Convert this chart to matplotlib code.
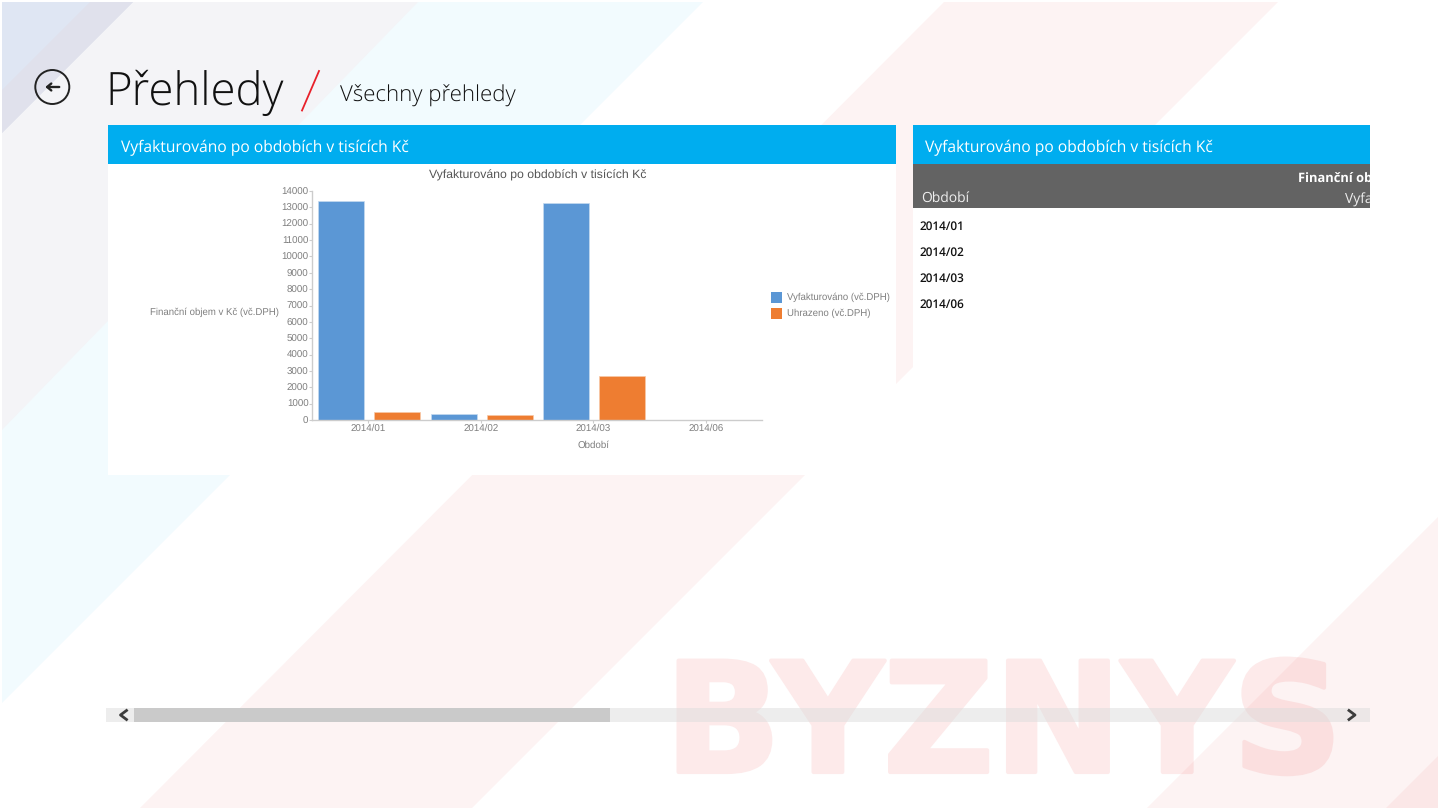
import numpy as np
import matplotlib
matplotlib.use('Agg')
import matplotlib.pyplot as plt
import matplotlib.patheffects as pe
from matplotlib.patches import Polygon, Rectangle, Circle

plt.rcParams['text.hinting'] = 'no_hinting'

# data
periods = ['2014/01', '2014/02', '2014/03', '2014/06']
invoiced = [13400, 385, 13250, 10]
paid = [470, 305, 2710, 0]
y_ticks = list(range(0, 15000, 1000))

BLUE = '#5B97D5'
ORANGE = '#EE7D31'
HEAD = '#00ADEF'
GREY = '#7f7f7f'
PINK = (0.9, 0.1, 0.1, 0.05)
FONT = ['Open Sans', 'DejaVu Sans']
CHART_FONT = ['Liberation Sans', 'DejaVu Sans']

W, H = 1440, 810
fig = plt.figure(figsize=(W / 100, H / 100), dpi=100)
fig.patch.set_facecolor('white')

# full-figure canvas in pixel coordinates, y pointing down
bg = fig.add_axes([0, 0, 1, 1])
bg.set_xlim(0, W)
bg.set_ylim(H, 0)
bg.axis('off')


def poly(pts, color, z=1):
    bg.add_patch(Polygon(pts, closed=True, facecolor=color, edgecolor='none', zorder=z))


def rect(x, y, w, h, color, z=3):
    bg.add_patch(Rectangle((x, y), w, h, facecolor=color, edgecolor='none', zorder=z))


# diagonal background stripes
poly([(0, 0), (705, 0), (0, 705)], '#F2FBFE')
poly([(0, 0), (420, 0), (0, 432)], '#F4F4F7', 1.1)
poly([(0, 0), (135, 0), (0, 135)], '#DFE6F3', 1.2)
poly([(135, 0), (0, 135), (0, 92), (92, 0)], '#E0E1EC', 1.3)

# watermark sits under the pink stripes, they tint it where they cross
wm = bg.text(1003.5, 772, 'BYZNYS', fontsize=110, fontweight='bold', family='DejaVu Sans',
             color='#FDEAEA', ha='center', va='baseline', zorder=1.5)
wm.set_path_effects([pe.withStroke(linewidth=3, foreground='#FDEAEA')])

poly([(946, 0), (1280, 0), (470, 810), (138, 810)], PINK, 2)
poly([(1440, 515), (1440, 810), (1145, 810)], PINK, 2)
poly([(1440, 754), (1440, 810), (1384, 810)], PINK, 2.1)

# thin white border round the window
rect(0, 0, W, 1.5, 'white', 2.5)
rect(0, 808, W, 2, 'white', 2.5)
rect(0, 0, 1.5, H, 'white', 2.5)
rect(1438, 0, 2, H, 'white', 2.5)

# header
bg.add_patch(Circle((52.3, 87), 17, facecolor='none', edgecolor='#222222', lw=1.4, zorder=4))
bg.annotate('', xy=(42.5, 87), xytext=(62, 87), zorder=4,
            arrowprops=dict(arrowstyle='->,head_width=0.25,head_length=0.3', color='#222222', lw=1.7))
bg.text(105, 105, 'Přehledy', fontsize=32.8, family=FONT, fontweight='light', color='#111111',
        va='baseline', zorder=4)
bg.plot([302, 319], [110.5, 71], color='#E8202A', lw=1.3, zorder=4)
bg.text(340.5, 101.5, 'Všechny přehledy', fontsize=16, family=FONT, fontweight='light', color='#111111',
        va='baseline', zorder=4)

# left card
rect(108, 125, 788, 39, HEAD)
rect(108, 164, 788, 311, 'white')
bg.text(121, 147.5, 'Vyfakturováno po obdobích v tisících Kč', fontsize=11.25, family=FONT,
        color='white', va='center', zorder=4)

# right card with the table
rect(913, 125, 457, 39, HEAD)
rect(913, 164, 457, 44, '#636363')
rect(913, 208, 457, 267, 'white')
bg.text(925, 147.5, 'Vyfakturováno po obdobích v tisících Kč', fontsize=11.25, family=FONT,
        color='white', va='center', zorder=4)
bg.text(921.5, 198.5, 'Období', fontsize=10, family=FONT, color='#eeeeee', va='center', zorder=4)
clip = Rectangle((913, 164), 457, 44, transform=bg.transData)
t1 = bg.text(1298, 179, 'Finanční objem', fontsize=9.3, family=FONT, fontweight='bold',
             color='white', va='center', zorder=4)
t2 = bg.text(1345, 200, 'Vyfakturováno', fontsize=10, family=FONT, color='#eeeeee', va='center', zorder=4)
for t in (t1, t2):
    t.set_clip_on(True)
    t.set_clip_path(clip)
for i, p in enumerate(periods):
    bg.text(919.5, 226.3 + i * 26.2, p, fontsize=8.5, family=FONT, color='#111111', fontweight='semibold',
            va='center', zorder=4)

# scrollbar, the track lets the watermark show through
bg.add_patch(Rectangle((105.5, 707.5), 1264.5, 14.5, facecolor=(0.865, 0.865, 0.865, 0.5),
                       edgecolor='none', zorder=3))
rect(134, 707.5, 476, 14.5, '#CACACA', 3.1)
bg.plot([126.5, 120.5, 126.5], [710.5, 715, 719.5], color='#3c3c3c', lw=2, zorder=4)
bg.plot([1349, 1355, 1349], [710.5, 715, 719.5], color='#3c3c3c', lw=2, zorder=4)

# chart, axes box taken from pixel positions of the plot area
ax = fig.add_axes([312 / W, 1 - 420 / H, 450 / W, 229 / H], facecolor='none', zorder=5)
x = np.arange(len(periods))
bar_w = 0.409
ax.bar(x - 0.238, invoiced, bar_w, color=BLUE, edgecolor='#C5DAF0', lw=0.5, label='Vyfakturováno (vč.DPH)')
ax.bar(x + 0.257, paid, bar_w, color=ORANGE, edgecolor='#F8C9A8', lw=0.5, label='Uhrazeno (vč.DPH)')
ax.set_xlim(-0.5, 3.5)
ax.set_ylim(0, 14000)
ax.set_yticks(y_ticks)
ax.set_xticks(x)
ax.set_xticklabels(periods)
ax.tick_params(axis='both', length=2, width=0.8, color='#cccccc', labelsize=7, labelcolor=GREY, pad=0.5)
for lab in ax.get_xticklabels() + ax.get_yticklabels():
    lab.set_family(CHART_FONT)
for s in ['top', 'right']:
    ax.spines[s].set_visible(False)
for s in ['left', 'bottom']:
    ax.spines[s].set_color('#cccccc')
    ax.spines[s].set_linewidth(1)

bg.text(429, 175, 'Vyfakturováno po obdobích v tisících Kč', fontsize=8.8, family=CHART_FONT,
        color='#555555', ha='left', va='center', zorder=4)
bg.text(214, 312, 'Finanční objem v Kč (vč.DPH)', fontsize=6.9, family=CHART_FONT, color=GREY,
        ha='center', va='center', zorder=4)
bg.text(594, 445, 'Období', fontsize=7, family=CHART_FONT, color=GREY, ha='center', va='center', zorder=4)

# legend drawn by hand to sit at the same place as in the screenshot
rect(771, 292, 10.5, 10.5, BLUE, 4)
rect(771, 308, 10.5, 10.5, ORANGE, 4)
bg.text(787, 297, 'Vyfakturováno (vč.DPH)', fontsize=6.9, family=CHART_FONT, color=GREY, va='center', zorder=4)
bg.text(787, 313, 'Uhrazeno (vč.DPH)', fontsize=6.9, family=CHART_FONT, color=GREY, va='center', zorder=4)

fig.savefig('out.png', dpi=100)
